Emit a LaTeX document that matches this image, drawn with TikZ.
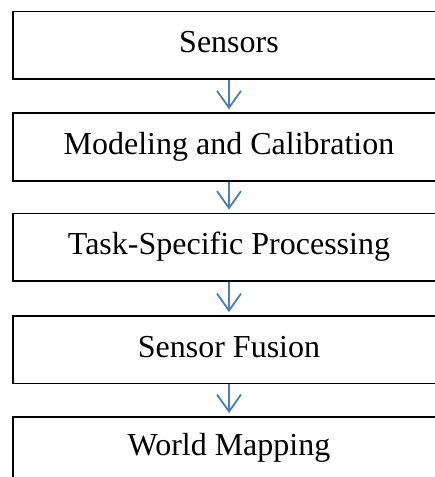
\documentclass[tikz,border=0pt]{standalone}
\usepackage{fontspec}
\setmainfont{Liberation Serif}
\usetikzlibrary{arrows.meta}
\definecolor{arrowblue}{HTML}{4A7EBB}
\begin{document}
\begin{tikzpicture}[x=1pt,y=-1pt,
  stagebox/.style={draw=black, line width=1.8pt, rectangle, inner sep=0pt,
    minimum width=432pt, minimum height=67.5pt,
    font=\fontsize{32}{38}\selectfont, text height=22pt, text depth=7pt},
  flowarrow/.style={draw=arrowblue, line width=1.8pt,
    -{Straight Barb[length=17pt,width=24pt,line width=1.8pt]}}]
\useasboundingbox (0,0) rectangle (435,477);
\clip (0,0) rectangle (435,477);
\node[stagebox] (b1) at (229,45.3) {Sensors};
\node[stagebox] (b2) at (229,147) {Modeling and Calibration};
\node[stagebox] (b3) at (229,247.3) {Task-Specific Processing};
\node[stagebox] (b4) at (229,349.8) {Sensor Fusion};
\node[stagebox, minimum height=80pt, text depth=26pt] (b5) at (229,457) {World Mapping};
\draw[flowarrow] (b1.south) -- ([yshift=3pt]b2.north);
\draw[flowarrow] (b2.south) -- ([yshift=3pt]b3.north);
\draw[flowarrow] (b3.south) -- ([yshift=3pt]b4.north);
\draw[flowarrow] (b4.south) -- ([yshift=3pt]b5.north);
\end{tikzpicture}
\end{document}
